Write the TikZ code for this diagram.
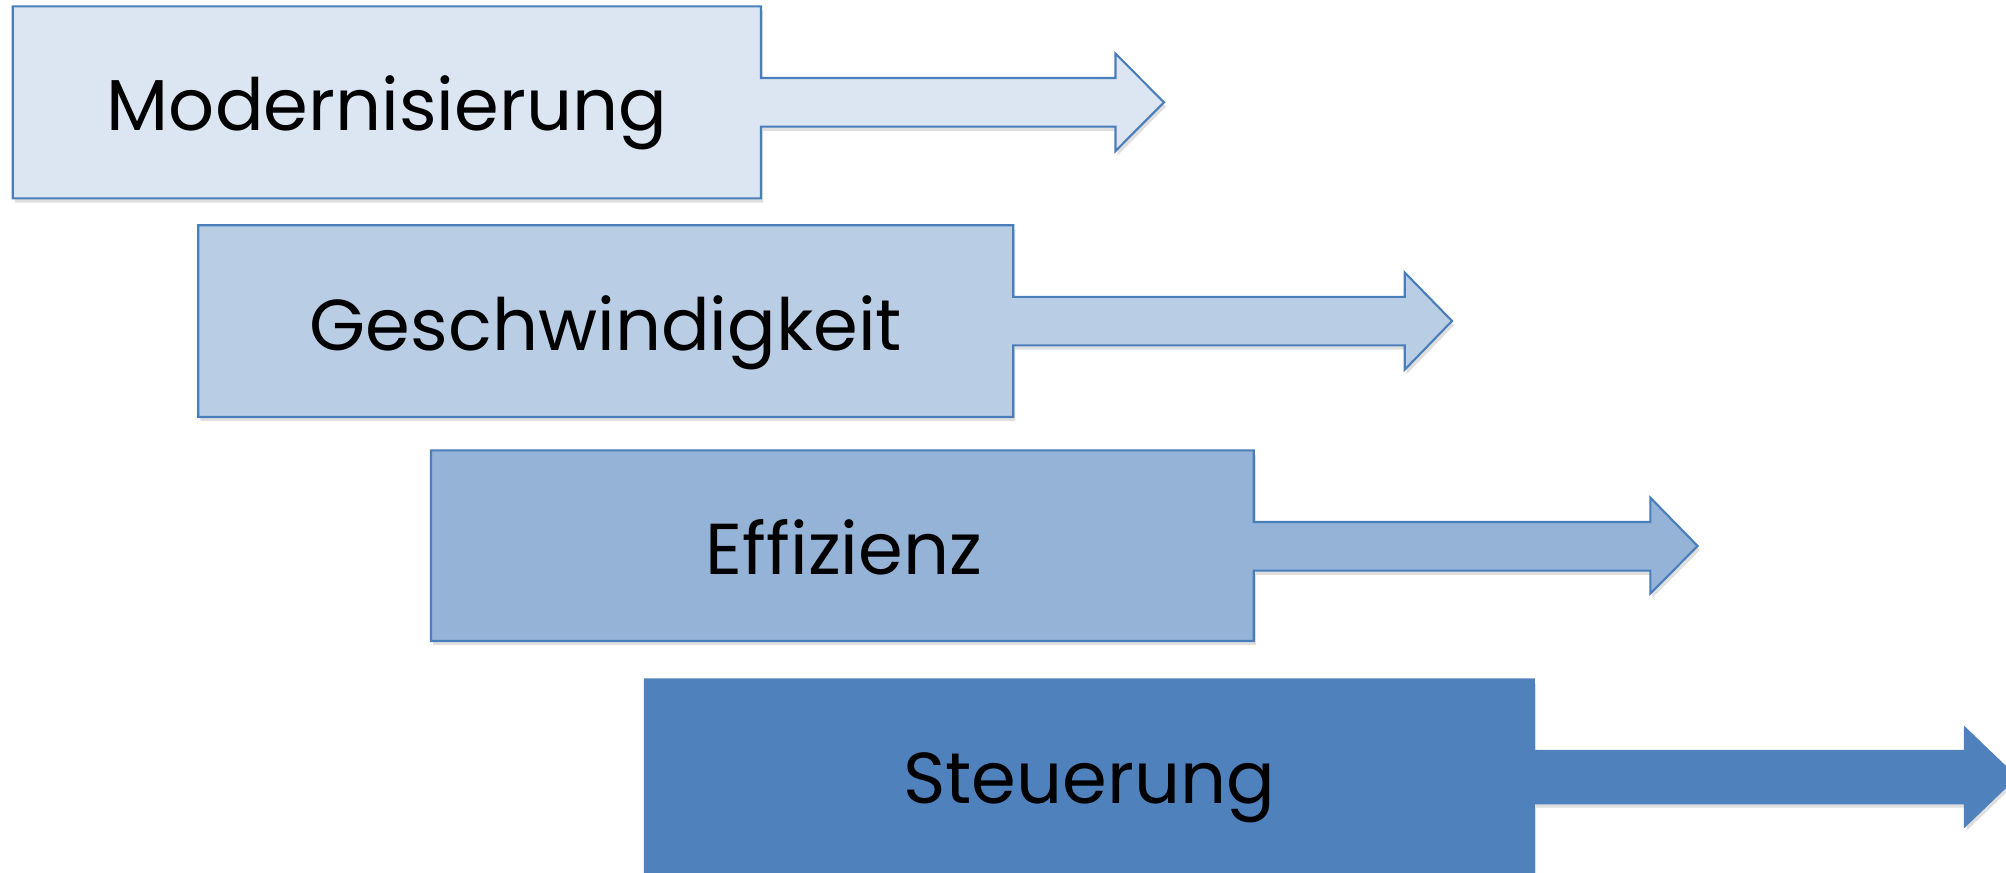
\documentclass[tikz,border=0pt]{standalone}
\usepackage{fontspec}
\setmainfont{Poppins}
\usetikzlibrary{shadows}
\definecolor{edge}{HTML}{4A7EBB}
\definecolor{fillA}{HTML}{DCE6F2}
\definecolor{fillB}{HTML}{B9CDE5}
\definecolor{fillC}{HTML}{95B3D7}
\definecolor{fillD}{HTML}{4F81BD}
\tikzset{
  arrowshape/.style={draw=edge, line width=0.6pt, line join=miter,
    drop shadow={shadow xshift=0.6pt, shadow yshift=-1.2pt, opacity=0.25}},
  label/.style={font=\fontsize{20.5}{24}\selectfont, text=black, inner sep=0pt, anchor=base}
}
\begin{document}
\begin{tikzpicture}[x=0.01cm, y=-0.01cm]
\useasboundingbox (0,0) rectangle (2006,872);
\clip (0,0) rectangle (2006,872);
% shape 1
\path[arrowshape, fill=fillA] (12.8,6.4) -- (761,6.4) -- (761,78) -- (1115.5,78) -- (1115.5,53.7) -- (1164,102.3) -- (1115.5,151) -- (1115.5,126.6) -- (761,126.6) -- (761,198.3) -- (12.8,198.3) -- cycle;
\node[label] (m) at (387,130.5) {Modernisierung};
% shape 2
\path[arrowshape, fill=fillB] (198.3,225.2) -- (1013.2,225.2) -- (1013.2,296.8) -- (1404.7,296.8) -- (1404.7,272.5) -- (1452,321) -- (1404.7,369.7) -- (1404.7,345.4) -- (1013.2,345.4) -- (1013.2,417) -- (198.3,417) -- cycle;
\node[label] (g) at (606,350) {Geschwindigkeit};
% shape 3
\path[arrowshape, fill=fillC] (431,450.3) -- (1253.7,450.3) -- (1253.7,522) -- (1650.3,522) -- (1650.3,497.6) -- (1697.6,546) -- (1650.3,593.6) -- (1650.3,570.6) -- (1253.7,570.6) -- (1253.7,641) -- (431,641) -- cycle;
\node[label] (e) at (844,574) {Effizienz};
% shape 4
\path[arrowshape, draw=fillD, fill=fillD] (644.8,679.3) -- (1533.9,679.3) -- (1533.9,751) -- (1965,751) -- (1965,728) -- (2016,777) -- (1965,826) -- (1965,803.4) -- (1533.9,803.4) -- (1533.9,875) -- (644.8,875) -- cycle;
\node[label] (s) at (1089.3,803) {Steuerung};
\end{tikzpicture}
\end{document}
